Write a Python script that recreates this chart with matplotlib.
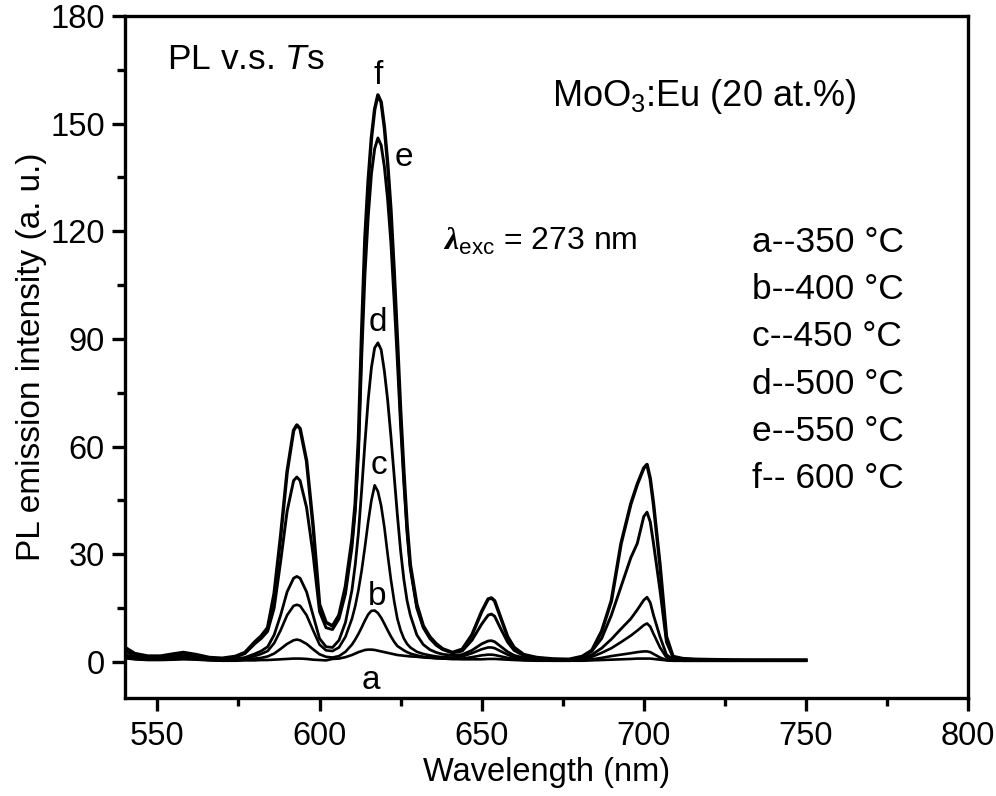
import matplotlib
matplotlib.use("Agg")
import matplotlib.pyplot as plt
from matplotlib.ticker import MultipleLocator

plt.rcParams['font.family'] = ['Liberation Sans', 'DejaVu Sans']
plt.rcParams['mathtext.fontset'] = 'custom'
plt.rcParams['mathtext.rm'] = 'Liberation Sans'
plt.rcParams['mathtext.it'] = 'Liberation Sans:italic'
plt.rcParams['mathtext.bf'] = 'Liberation Serif:italic:bold'

# wavelength grid (nm)
wl = [540, 543, 547, 551, 555, 558, 562, 566, 570, 574, 577,
      580, 582, 584, 586, 588, 590, 592, 593, 594, 596, 598, 600, 602,
      604, 606, 608, 610, 611, 612, 613, 614, 615, 616,
      617, 618, 619, 620, 621, 622, 623, 624, 625, 626, 627, 628,
      630, 632, 634, 636, 638, 641, 644, 647, 650, 652, 653, 654, 656, 658, 660, 663,
      667, 672, 677, 681, 684, 687, 690, 693, 696, 698,
      700, 701, 702, 703, 705, 707, 709, 712, 716, 722, 730, 740, 750]

# a -- 350 C
pl_a = [1.0, 0.7, 0.5, 0.5, 0.6, 0.7, 0.6, 0.4, 0.3, 0.3, 0.4,
        0.4, 0.5, 0.5, 0.6, 0.7, 0.8, 0.9, 0.9, 0.9, 0.8, 0.6, 0.5, 0.4,
        0.8, 0.9, 1.3, 1.9, 2.3, 2.7, 3.0, 3.3, 3.4, 3.4,
        3.3, 3.1, 2.9, 2.7, 2.5, 2.3, 2.1, 1.9, 1.8, 1.7, 1.6, 1.5,
        1.4, 1.2, 1.1, 1.0, 0.9, 0.8, 0.7, 0.7, 0.7, 0.8, 0.8, 0.8, 0.7, 0.6, 0.5, 0.4,
        0.3, 0.3, 0.3, 0.3, 0.4, 0.5, 0.6, 0.7, 0.8, 0.9,
        0.9, 0.9, 0.9, 0.8, 0.6, 0.4, 0.3, 0.3, 0.3, 0.3, 0.3, 0.3, 0.3]
# b -- 400 C
pl_b = [1.2, 0.8, 0.6, 0.6, 0.8, 1.0, 0.8, 0.5, 0.4, 0.5, 0.6,
        0.9, 1.1, 1.5, 2.3, 3.6, 5.0, 6.0, 6.2, 6.0, 5.0, 3.5, 2.1, 1.4,
        1.2, 1.6, 2.8, 4.8, 6.2, 7.8, 9.6, 11.5, 13.2, 14.2,
        14.3, 13.6, 12.3, 10.6, 8.8, 7.1, 5.6, 4.4, 3.8, 3.2, 2.7, 2.3,
        1.8, 1.4, 1.2, 1.0, 0.9, 0.8, 0.9, 1.3, 1.8, 2.0, 2.0, 1.9, 1.5, 1.1, 0.8, 0.5,
        0.4, 0.3, 0.3, 0.4, 0.7, 1.1, 1.6, 2.0, 2.4, 2.7,
        2.9, 2.9, 2.7, 2.2, 1.2, 0.5, 0.3, 0.3, 0.3, 0.3, 0.3, 0.3, 0.3]
# c -- 450 C
pl_c = [1.5, 1.0, 0.8, 0.8, 1.1, 1.3, 1.0, 0.6, 0.5, 0.6, 0.9,
        1.6, 2.2, 3.0, 5.2, 8.8, 13.0, 15.6, 15.9, 15.6, 13.0, 8.8, 4.8, 3.2,
        3.0, 4.0, 7.0, 12.0, 15.5, 20.0, 25.5, 32.0, 39.0, 45.0,
        49.2, 47.5, 43.5, 37.5, 30.0, 23.0, 17.0, 12.0, 8.8, 6.5, 5.0, 4.0,
        2.8, 2.2, 1.8, 1.5, 1.3, 1.2, 1.5, 2.4, 3.5, 4.0, 4.0, 3.8, 2.9, 2.0, 1.3, 0.8,
        0.5, 0.4, 0.4, 0.7, 1.4, 2.5, 3.8, 5.5, 7.3, 8.7,
        10.2, 10.7, 9.8, 7.8, 4.0, 1.2, 0.4, 0.3, 0.3, 0.3, 0.3, 0.3, 0.3]
# d -- 500 C
pl_d = [2.0, 1.3, 1.0, 1.0, 1.4, 1.7, 1.3, 0.8, 0.6, 0.8, 1.2,
        2.2, 3.0, 4.2, 7.5, 13.0, 19.5, 23.3, 23.8, 23.3, 19.5, 13.0, 6.5, 4.2,
        4.0, 6.0, 11.0, 20.0, 27.0, 36.0, 48.0, 61.0, 73.0, 82.0,
        87.5, 88.9, 87.0, 81.0, 73.0, 63.0, 52.0, 41.0, 31.0, 23.0, 17.0, 13.0,
        7.5, 4.8, 3.4, 2.6, 2.1, 1.8, 2.0, 3.2, 5.0, 5.8, 5.9, 5.6, 4.2, 2.8, 1.8, 1.1,
        0.7, 0.5, 0.5, 1.0, 2.0, 3.8, 6.3, 9.2, 12.0, 14.5,
        17.2, 18.0, 16.5, 13.0, 7.0, 2.0, 0.6, 0.4, 0.4, 0.4, 0.4, 0.4, 0.4]
# e -- 550 C
pl_e = [3.0, 1.8, 1.3, 1.4, 2.0, 2.4, 1.8, 1.0, 0.8, 1.3, 2.3,
        5.0, 6.5, 8.5, 15.0, 28.0, 42.0, 50.5, 51.5, 50.5, 43.0, 30.0, 14.0, 9.5,
        9.0, 12.0, 19.0, 32.0, 42.0, 58.0, 85.0, 108.0, 124.0, 136.0,
        143.0, 146.0, 144.0, 138.0, 129.0, 117.0, 101.0, 84.0, 66.0, 50.0, 36.0, 26.0,
        15.0, 9.5, 6.5, 4.6, 3.4, 2.5, 3.0, 6.0, 10.5, 13.0, 13.3, 12.7, 9.0, 5.5, 3.2, 1.7,
        1.0, 0.7, 0.6, 1.4, 3.0, 6.5, 13.0, 21.0, 29.0, 33.0,
        40.5, 41.7, 39.0, 33.0, 20.0, 5.5, 1.3, 0.8, 0.6, 0.5, 0.5, 0.45, 0.45]
# f -- 600 C
pl_f = [4.0, 2.3, 1.6, 1.6, 2.2, 2.6, 2.0, 1.2, 1.0, 1.5, 2.6,
        5.5, 7.2, 9.5, 19.0, 35.0, 53.0, 64.5, 66.0, 65.0, 56.0, 38.0, 16.0, 11.0,
        10.0, 13.0, 21.0, 34.0, 44.0, 62.0, 92.0, 118.0, 134.0, 146.0,
        154.0, 158.0, 156.0, 149.0, 139.0, 126.0, 109.0, 90.0, 70.0, 53.0, 38.0, 27.0,
        16.0, 10.0, 7.0, 5.0, 3.6, 2.6, 3.5, 7.5, 14.0, 17.5, 17.8, 17.0, 12.0, 7.0, 4.0, 2.0,
        1.2, 0.8, 0.7, 1.5, 3.2, 8.5, 17.0, 33.0, 44.0, 49.5,
        54.0, 55.0, 51.0, 44.0, 27.0, 7.0, 1.5, 0.9, 0.7, 0.6, 0.5, 0.5, 0.5]

curves = [pl_a, pl_b, pl_c, pl_d, pl_e, pl_f]
widths = [1.9, 1.9, 1.9, 2.0, 2.1, 2.5]

curve_tags = ['a', 'b', 'c', 'd', 'e', 'f']
tag_x = [615.8, 617.6, 618.3, 618.0, 626.0, 618.0]
tag_y = [-5.3, 18.2, 54.8, 94.5, 140.7, 163.5]

temps = ['a--350 °C', 'b--400 °C', 'c--450 °C', 'd--500 °C', 'e--550 °C', 'f-- 600 °C']
temp_y = [116.8, 103.7, 90.6, 77.4, 64.3, 51.1]

fig = plt.figure(figsize=(9.96, 7.96), dpi=100)
ax = fig.add_axes([0.1255, 0.1235, 0.8464, 0.8564])

for y, lw in zip(curves, widths):
    ax.plot(wl, y, color='black', lw=lw, solid_joinstyle='round')

for t, x, y in zip(curve_tags, tag_x, tag_y):
    ax.text(x, y, t, fontsize=24, ha='center', va='center')

for t, y in zip(temps, temp_y):
    ax.text(733.4, y, t, fontsize=25.5, ha='left', va='center')

ax.text(553, 165.2, r'PL v.s. $\mathit{T}$s', fontsize=25.5, ha='left', va='baseline')
ax.text(671.6, 154.9, r'MoO$_\mathrm{3}$:Eu (20 at.%)', fontsize=26, ha='left', va='baseline')
ax.text(638.1, 114.9, r'$\mathbf{\lambda}_\mathrm{exc}$ = 273 nm', fontsize=23, ha='left', va='baseline')

ax.set_xlim(540, 800)
ax.set_ylim(-10, 180)
ax.xaxis.set_major_locator(MultipleLocator(50))
ax.xaxis.set_minor_locator(MultipleLocator(25))
ax.yaxis.set_major_locator(MultipleLocator(30))
ax.yaxis.set_minor_locator(MultipleLocator(15))

ax.tick_params(which='both', direction='out', width=2.4, labelsize=23.5)
ax.tick_params(which='major', length=9.5)
ax.tick_params(which='minor', length=5.5)
ax.tick_params(axis='x', pad=7)
ax.tick_params(axis='y', pad=5)
for s in ax.spines.values():
    s.set_linewidth(2.4)

ax.set_xlabel('Wavelength (nm)', fontsize=23.5, labelpad=4)
ax.set_ylabel('PL emission intensity (a. u.)', fontsize=24, labelpad=2)

fig.savefig('out.png', dpi=100)
